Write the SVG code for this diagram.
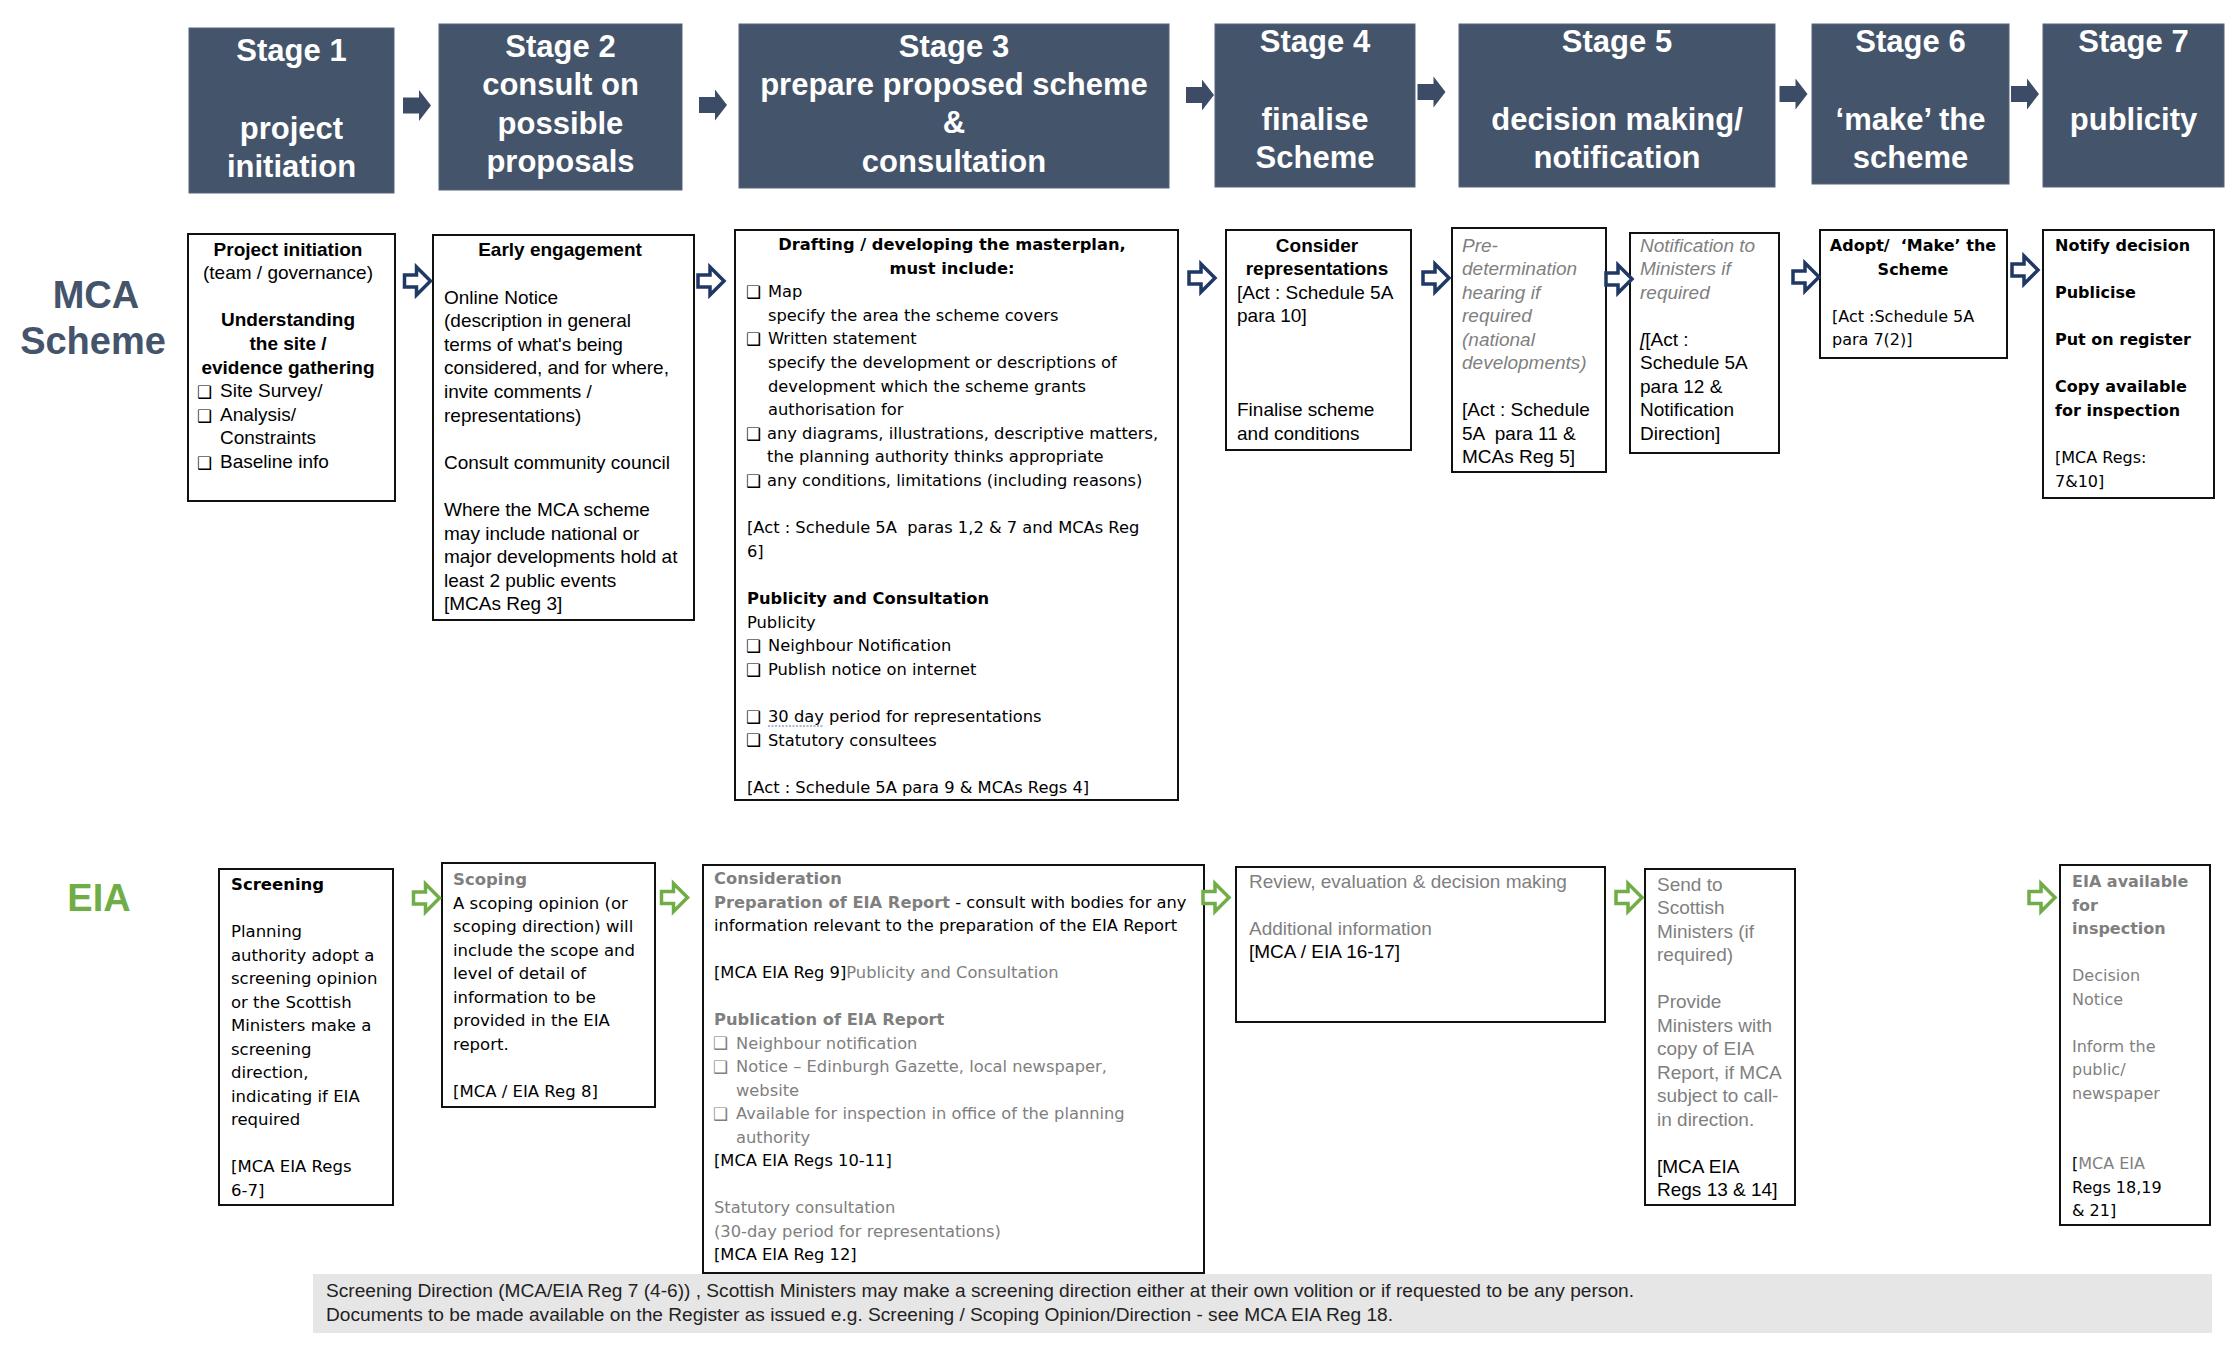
<svg xmlns="http://www.w3.org/2000/svg" width="2228" height="1348" viewBox="0 0 2228 1348">
<style>
.stage{fill:#44546A;stroke:#56657b;stroke-width:1}
.st{font-family:"Liberation Sans",Arial,sans-serif;font-weight:bold;font-size:31px;fill:#fff;text-anchor:middle}
.box{fill:#fff;stroke:#111;stroke-width:2}
.ar{font-family:"Liberation Sans",Arial,sans-serif;font-size:19px;fill:#000}
.vd{font-family:"DejaVu Sans",Verdana,sans-serif;font-size:16px;fill:#000}
.v3{font-size:16.3px}
.v5{font-size:16.5px}
.b{font-weight:bold}
.g{fill:#7f7f7f}
.i{font-style:italic}
.c{text-anchor:middle}
.chk{font-family:"DejaVu Sans",sans-serif;font-size:17px;font-weight:bold}
.ha{fill:#3d4c66}
.ma{fill:#fff;stroke:#1f3864;stroke-width:3.5}
.ea{fill:#fff;stroke:#70ad47;stroke-width:3.5}
.lbl{font-family:"Liberation Sans",Arial,sans-serif;font-weight:bold;font-size:38px;text-anchor:middle}
.foot{font-family:"Liberation Sans",Arial,sans-serif;font-size:17.5px;fill:#222}
</style>
<defs>
<path id="fa" d="M-14,-8 H2 V-15.5 L14,0 L2,15.5 V8 H-14 Z"/>
<path id="ha" d="M-13,-6 H-1 V-14 L13,0 L-1,14 V6 H-13 Z"/>
</defs>
<rect width="2228" height="1348" fill="#fff"/>

<!-- Stage headers -->
<g id="stage1"><rect class="stage" x="189" y="28" width="205" height="165"/>
<text class="st" x="291.5" y="61">Stage 1</text><text class="st" x="291.5" y="139">project</text><text class="st" x="291.5" y="177">initiation</text></g>
<g id="stage2"><rect class="stage" x="439" y="24" width="243" height="166"/>
<text class="st" x="560.5" y="57">Stage 2</text><text class="st" x="560.5" y="95">consult on</text><text class="st" x="560.5" y="134">possible</text><text class="st" x="560.5" y="172">proposals</text></g>
<g id="stage3"><rect class="stage" x="739" y="24" width="430" height="164"/>
<text class="st" x="954" y="57">Stage 3</text><text class="st" x="954" y="95">prepare proposed scheme</text><text class="st" x="954" y="133">&amp;</text><text class="st" x="954" y="172">consultation</text></g>
<g id="stage4"><rect class="stage" x="1215" y="24" width="200" height="163"/>
<text class="st" x="1315" y="52">Stage 4</text><text class="st" x="1315" y="130">finalise</text><text class="st" x="1315" y="168">Scheme</text></g>
<g id="stage5"><rect class="stage" x="1459" y="24" width="316" height="163"/>
<text class="st" x="1617" y="52">Stage 5</text><text class="st" x="1617" y="130">decision making/</text><text class="st" x="1617" y="168">notification</text></g>
<g id="stage6"><rect class="stage" x="1812" y="24" width="197" height="160"/>
<text class="st" x="1910.5" y="52">Stage 6</text><text class="st" x="1910.5" y="130">‘make’ the</text><text class="st" x="1910.5" y="168">scheme</text></g>
<g id="stage7"><rect class="stage" x="2043" y="24" width="181" height="163"/>
<text class="st" x="2133.5" y="52">Stage 7</text><text class="st" x="2133.5" y="130">publicity</text></g>

<!-- Row labels -->
<g id="label-mca"><text class="lbl" x="96" y="308" fill="#44546A">MCA</text><text class="lbl" x="93" y="354" fill="#44546A">Scheme</text></g>
<g id="label-eia"><text class="lbl" x="99" y="911" fill="#70AD47">EIA</text></g>

<!-- MCA boxes -->
<g id="mca1"><rect class="box" x="188" y="234" width="207" height="267"/>
<text class="ar b c" x="288" y="255.5">Project initiation</text>
<text class="ar c" x="288" y="279.1">(team / governance)</text>
<text class="ar b c" x="288" y="326.3">Understanding</text>
<text class="ar b c" x="288" y="349.9">the site /</text>
<text class="ar b c" x="288" y="373.5">evidence gathering</text>
<text class="chk" x="197" y="398">❑</text><text class="ar" x="220" y="397.1">Site Survey/</text>
<text class="chk" x="197" y="421.6">❑</text><text class="ar" x="220" y="420.7">Analysis/</text>
<text class="ar" x="220" y="444.3">Constraints</text>
<text class="chk" x="197" y="468.8">❑</text><text class="ar" x="220" y="467.9">Baseline info</text></g>

<g id="mca2"><rect class="box" x="433" y="235" width="261" height="385"/>
<text class="ar b c" x="560" y="255.5">Early engagement</text>
<text class="ar" x="444" y="303.5">Online Notice</text>
<text class="ar" x="444" y="327.1">(description in general</text>
<text class="ar" x="444" y="350.7">terms of what's being</text>
<text class="ar" x="444" y="374.3">considered, and for where,</text>
<text class="ar" x="444" y="397.9">invite comments /</text>
<text class="ar" x="444" y="421.5">representations)</text>
<text class="ar" x="444" y="468.7">Consult community council</text>
<text class="ar" x="444" y="515.9">Where the MCA scheme</text>
<text class="ar" x="444" y="539.5">may include national or</text>
<text class="ar" x="444" y="563.1">major developments hold at</text>
<text class="ar" x="444" y="586.7">least 2 public events</text>
<text class="ar" x="444" y="610.3">[MCAs Reg 3]</text></g>

<g id="mca3"><rect class="box" x="735" y="230" width="443" height="570"/>
<text class="vd v3 b c" x="952" y="250">Drafting / developing the masterplan,</text>
<text class="vd v3 b c" x="952" y="273.6">must include:</text>
<text class="chk" x="746" y="298">❑</text><text class="vd v3" x="768" y="297.2">Map</text>
<text class="vd v3" x="768" y="320.8">specify the area the scheme covers</text>
<text class="chk" x="746" y="345.2">❑</text><text class="vd v3" x="768" y="344.4">Written statement</text>
<text class="vd v3" x="768" y="368">specify the development or descriptions of</text>
<text class="vd v3" x="768" y="391.6">development which the scheme grants</text>
<text class="vd v3" x="768" y="415.2">authorisation for</text>
<text class="chk" x="746" y="439.6">❑</text><text class="vd v3" x="767" y="438.8">any diagrams, illustrations, descriptive matters,</text>
<text class="vd v3" x="767" y="462.4">the planning authority thinks appropriate</text>
<text class="chk" x="746" y="486.8">❑</text><text class="vd v3" x="767" y="486">any conditions, limitations (including reasons)</text>
<text class="vd v3" x="747" y="533.2">[Act : Schedule 5A &#160;paras 1,2 &amp; 7 and MCAs Reg</text>
<text class="vd v3" x="747" y="556.8">6]</text>
<text class="vd v3 b" x="747" y="604">Publicity and Consultation</text>
<text class="vd v3" x="747" y="627.6">Publicity</text>
<text class="chk" x="746" y="652">❑</text><text class="vd v3" x="768" y="651.2">Neighbour Notification</text>
<text class="chk" x="746" y="675.6">❑</text><text class="vd v3" x="768" y="674.8">Publish notice on internet</text>
<text class="chk" x="746" y="722.8">❑</text><text class="vd v3" x="768" y="722">30 day period for representations</text>
<line x1="768" y1="726" x2="824" y2="726" stroke="#8ea4c4" stroke-width="1.5" stroke-dasharray="2 1.5"/>
<text class="chk" x="746" y="746.4">❑</text><text class="vd v3" x="768" y="745.6">Statutory consultees</text>
<text class="vd v3" x="747" y="792.8">[Act : Schedule 5A para 9 &amp; MCAs Regs 4]</text></g>

<g id="mca4"><rect class="box" x="1226" y="230" width="185" height="220"/>
<text class="ar b c" x="1317" y="251.5">Consider</text>
<text class="ar b c" x="1317" y="275">representations</text>
<text class="ar" x="1237" y="298.5">[Act : Schedule 5A</text>
<text class="ar" x="1237" y="322">para 10]</text>
<text class="ar" x="1237" y="416">Finalise scheme</text>
<text class="ar" x="1237" y="439.5">and conditions</text></g>

<g id="mca5a"><rect class="box" x="1452" y="228" width="154" height="244"/>
<text class="ar i g" x="1462" y="251.5">Pre-</text>
<text class="ar i g" x="1462" y="275">determination</text>
<text class="ar i g" x="1462" y="298.5">hearing if</text>
<text class="ar i g" x="1462" y="322">required</text>
<text class="ar i g" x="1462" y="345.5">(national</text>
<text class="ar i g" x="1462" y="369">developments)</text>
<text class="ar" x="1462" y="416">[Act : Schedule</text>
<text class="ar" x="1462" y="439.5">5A &#160;para 11 &amp;</text>
<text class="ar" x="1462" y="463">MCAs Reg 5]</text></g>

<g id="mca5b"><rect class="box" x="1630" y="233" width="149" height="220"/>
<text class="ar i g" x="1640" y="251.5">Notification to</text>
<text class="ar i g" x="1640" y="275">Ministers if</text>
<text class="ar i g" x="1640" y="298.5">required</text>
<text class="ar" x="1640" y="345.5"><tspan class="i">[</tspan>[Act :</text>
<text class="ar" x="1640" y="369">Schedule 5A</text>
<text class="ar" x="1640" y="392.5">para 12 &amp;</text>
<text class="ar" x="1640" y="416">Notification</text>
<text class="ar" x="1640" y="439.5">Direction]</text></g>

<g id="mca6"><rect class="box" x="1820" y="230" width="187" height="128"/>
<text class="vd b c" x="1913" y="251">Adopt/ &#160;‘Make’ the</text>
<text class="vd b c" x="1913" y="274.6">Scheme</text>
<text class="vd" x="1832" y="321.8">[Act :Schedule 5A</text>
<text class="vd" x="1832" y="345.4">para 7(2)]</text></g>

<g id="mca7"><rect class="box" x="2043" y="230" width="171" height="268"/>
<text class="vd b" x="2055" y="250.5">Notify decision</text>
<text class="vd b" x="2055" y="297.7">Publicise</text>
<text class="vd b" x="2055" y="344.9">Put on register</text>
<text class="vd b" x="2055" y="392.1">Copy available</text>
<text class="vd b" x="2055" y="415.7">for inspection</text>
<text class="vd" x="2055" y="462.9">[MCA Regs:</text>
<text class="vd" x="2055" y="486.5">7&amp;10]</text></g>

<!-- EIA boxes -->
<g id="eia1"><rect class="box" x="219" y="869" width="174" height="336"/>
<text class="vd v5 b" x="231" y="890">Screening</text>
<text class="vd v5" x="231" y="937">Planning</text>
<text class="vd v5" x="231" y="960.5">authority adopt a</text>
<text class="vd v5" x="231" y="984">screening opinion</text>
<text class="vd v5" x="231" y="1007.5">or the Scottish</text>
<text class="vd v5" x="231" y="1031">Ministers make a</text>
<text class="vd v5" x="231" y="1054.5">screening</text>
<text class="vd v5" x="231" y="1078">direction,</text>
<text class="vd v5" x="231" y="1101.5">indicating if EIA</text>
<text class="vd v5" x="231" y="1125">required</text>
<text class="vd v5" x="231" y="1172">[MCA EIA Regs</text>
<text class="vd v5" x="231" y="1195.5">6-7]</text></g>

<g id="eia2"><rect class="box" x="442" y="863" width="213" height="244"/>
<text class="vd v5 b g" x="453" y="885">Scoping</text>
<text class="vd v5" x="453" y="908.5">A scoping opinion (or</text>
<text class="vd v5" x="453" y="932">scoping direction) will</text>
<text class="vd v5" x="453" y="955.5">include the scope and</text>
<text class="vd v5" x="453" y="979">level of detail of</text>
<text class="vd v5" x="453" y="1002.5">information to be</text>
<text class="vd v5" x="453" y="1026">provided in the EIA</text>
<text class="vd v5" x="453" y="1049.5">report.</text>
<text class="vd v5" x="453" y="1096.5">[MCA / EIA Reg 8]</text></g>

<g id="eia3"><rect class="box" x="703" y="865" width="501" height="408"/>
<text class="vd v3 b g" x="714" y="884">Consideration</text>
<text class="vd v3" x="714" y="907.5"><tspan class="b g">Preparation of EIA Report</tspan> - consult with bodies for any</text>
<text class="vd v3" x="714" y="931">information relevant to the preparation of the EIA Report</text>
<text class="vd v3" x="714" y="978">[MCA EIA Reg 9]<tspan class="g">Publicity and Consultation</tspan></text>
<text class="vd v3 b g" x="714" y="1025">Publication of EIA Report</text>
<text class="chk g" x="713" y="1049.3">❑</text><text class="vd v3 g" x="736" y="1048.5">Neighbour notification</text>
<text class="chk g" x="713" y="1072.8">❑</text><text class="vd v3 g" x="736" y="1072">Notice – Edinburgh Gazette, local newspaper,</text>
<text class="vd v3 g" x="736" y="1095.5">website</text>
<text class="chk g" x="713" y="1119.8">❑</text><text class="vd v3 g" x="736" y="1119">Available for inspection in office of the planning</text>
<text class="vd v3 g" x="736" y="1142.5">authority</text>
<text class="vd v3" x="714" y="1166">[MCA EIA Regs 10-11]</text>
<text class="vd v3 g" x="714" y="1213">Statutory consultation</text>
<text class="vd v3 g" x="714" y="1236.5">(30-day period for representations)</text>
<text class="vd v3" x="714" y="1260">[MCA EIA Reg 12]</text></g>

<g id="eia4"><rect class="box" x="1236" y="867" width="369" height="155"/>
<text class="ar g" x="1249" y="887.5">Review, evaluation &amp; decision making</text>
<text class="ar g" x="1249" y="934.5">Additional information</text>
<text class="ar" x="1249" y="958">[MCA / EIA 16-17]</text></g>

<g id="eia5"><rect class="box" x="1645" y="869" width="150" height="336"/>
<text class="ar g" x="1657" y="890.5">Send to</text>
<text class="ar g" x="1657" y="914">Scottish</text>
<text class="ar g" x="1657" y="937.5">Ministers (if</text>
<text class="ar g" x="1657" y="961">required)</text>
<text class="ar g" x="1657" y="1008">Provide</text>
<text class="ar g" x="1657" y="1031.5">Ministers with</text>
<text class="ar g" x="1657" y="1055">copy of EIA</text>
<text class="ar g" x="1657" y="1078.5">Report, if MCA</text>
<text class="ar g" x="1657" y="1102">subject to call-</text>
<text class="ar g" x="1657" y="1125.5">in direction.</text>
<text class="ar" x="1657" y="1172.5">[MCA EIA</text>
<text class="ar" x="1657" y="1196">Regs 13 &amp; 14]</text></g>

<g id="eia6"><rect class="box" x="2060" y="865" width="150" height="360"/>
<text class="vd b g" x="2072" y="887">EIA available</text>
<text class="vd b g" x="2072" y="910.5">for</text>
<text class="vd b g" x="2072" y="934">inspection</text>
<text class="vd g" x="2072" y="981">Decision</text>
<text class="vd g" x="2072" y="1004.5">Notice</text>
<text class="vd g" x="2072" y="1051.5">Inform the</text>
<text class="vd g" x="2072" y="1075">public/</text>
<text class="vd g" x="2072" y="1098.5">newspaper</text>
<text class="vd" x="2072" y="1169">[<tspan class="g">MCA EIA</tspan></text>
<text class="vd" x="2072" y="1192.5">Regs 18,19</text>
<text class="vd" x="2072" y="1216">&amp; 21]</text></g>

<!-- Footer note -->
<g id="footnote"><rect x="313" y="1274" width="1899" height="59" fill="#e7e6e6"/>
<text class="foot" x="326" y="1297" textLength="1308" lengthAdjust="spacingAndGlyphs">Screening Direction (MCA/EIA Reg 7 (4-6)) , Scottish Ministers may make a screening direction either at their own volition or if requested to be any person.</text>
<text class="foot" x="326" y="1321" textLength="1067" lengthAdjust="spacingAndGlyphs">Documents to be made available on the Register as issued e.g. Screening / Scoping Opinion/Direction - see MCA EIA Reg 18.</text></g>

<!-- Connectors -->
<g id="connectors">
<use href="#fa" class="ha" transform="translate(417,105.5)"/>
<use href="#fa" class="ha" transform="translate(713,105)"/>
<use href="#fa" class="ha" transform="translate(1200,95)"/>
<use href="#fa" class="ha" transform="translate(1431.5,92)"/>
<use href="#fa" class="ha" transform="translate(1793.5,94)"/>
<use href="#fa" class="ha" transform="translate(2025,94)"/>
<use href="#ha" class="ma" transform="translate(417.5,281)"/>
<use href="#ha" class="ma" transform="translate(711,281)"/>
<use href="#ha" class="ma" transform="translate(1202,278)"/>
<use href="#ha" class="ma" transform="translate(1436,278)"/>
<use href="#ha" class="ma" transform="translate(1619,279)"/>
<use href="#ha" class="ma" transform="translate(1806,277)"/>
<use href="#ha" class="ma" transform="translate(2025,270)"/>
<use href="#ha" class="ea" transform="translate(426.5,898)"/>
<use href="#ha" class="ea" transform="translate(674.5,897.5)"/>
<use href="#ha" class="ea" transform="translate(1216,897.5)"/>
<use href="#ha" class="ea" transform="translate(1629,897.5)"/>
<use href="#ha" class="ea" transform="translate(2042,897.5)"/>
</g>
</svg>
